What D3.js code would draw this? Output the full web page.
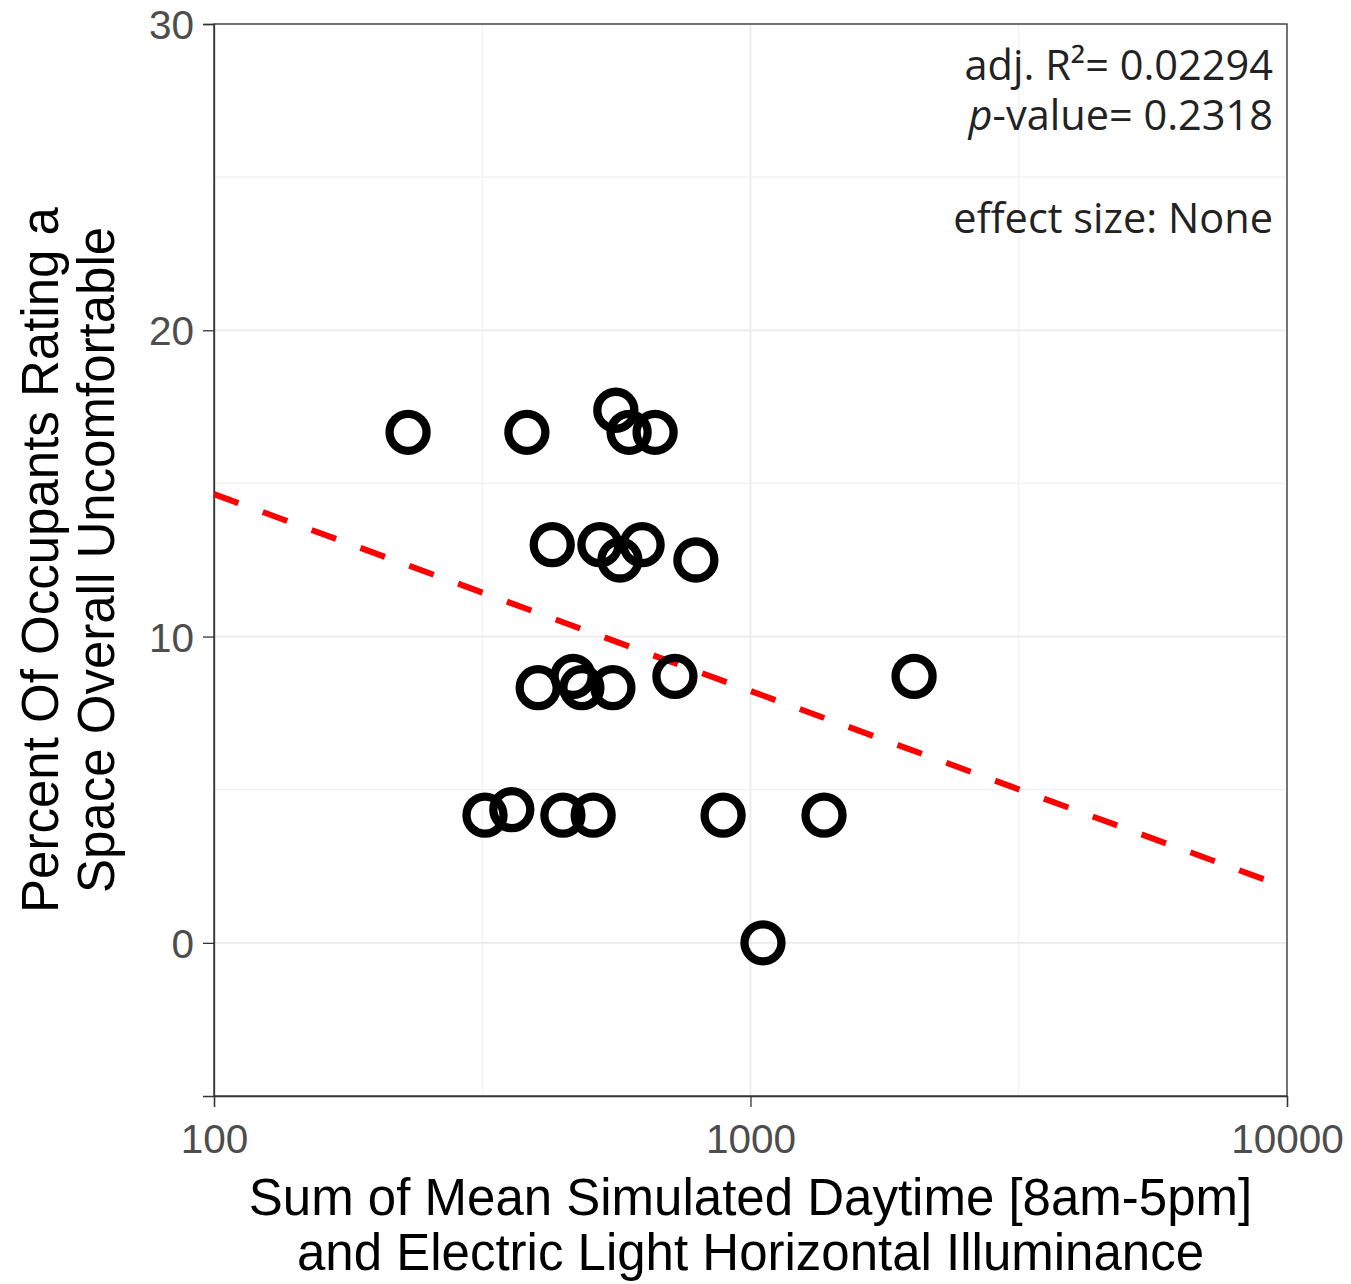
<!DOCTYPE html>
<html><head><meta charset="utf-8">
<script src="https://cdn.jsdelivr.net/npm/d3@7"></script>
<style>body{margin:0;background:#fff}</style>
</head><body>
<svg id="c" width="1351" height="1284"></svg>
<script>
const illum = [230, 383, 561, 594, 664, 427, 524, 571, 628, 791, 402, 467, 485, 554, 723, 320, 359, 447, 509, 889, 1371, 1055, 2018];
const pct   = [16.67, 16.67, 17.39, 16.67, 16.67, 13.0, 13.0, 12.5, 13.0, 12.5, 8.33, 8.7, 8.33, 8.33, 8.7, 4.17, 4.35, 4.17, 4.17, 4.17, 4.17, 0, 8.7];
const fitX = [100, 10000];
const fitY = [14.65, 1.8];
const xTicks = [100, 1000, 10000];
const xMinor = [316.23, 3162.3];
const yTicks = [0, 10, 20, 30];
const yMinor = [-5, 5, 15, 25];
const annot = ["adj. R\u00b2= 0.02294", "-value= 0.2318", "effect size: None"];

const L = 214, R = 1287, T = 24, B = 1096;
const svg = d3.select("#c");
const x = d3.scaleLog().domain([100, 10000]).range([L, R]);
const y = d3.scaleLinear().domain([-5, 30]).range([B, T]);

const g = svg.append("g");
// grid
g.selectAll(".gmx").data(xMinor).join("line").attr("x1", d => x(d)).attr("x2", d => x(d)).attr("y1", T).attr("y2", B).attr("stroke", "#f0f0f0").attr("stroke-width", 1.2);
g.selectAll(".gmy").data(yMinor).join("line").attr("y1", d => y(d)).attr("y2", d => y(d)).attr("x1", L).attr("x2", R).attr("stroke", "#f0f0f0").attr("stroke-width", 1.2);
g.selectAll(".gx").data(xTicks).join("line").attr("x1", d => x(d)).attr("x2", d => x(d)).attr("y1", T).attr("y2", B).attr("stroke", "#ebebeb").attr("stroke-width", 1.8);
g.selectAll(".gy").data(yTicks).join("line").attr("y1", d => y(d)).attr("y2", d => y(d)).attr("x1", L).attr("x2", R).attr("stroke", "#ebebeb").attr("stroke-width", 1.8);

// border
g.append("rect").attr("x", L).attr("y", T).attr("width", R - L).attr("height", B - T).attr("fill", "none").attr("stroke", "#333").attr("stroke-width", 1.3);

// axes
const xa = svg.append("g").attr("transform", `translate(0,${B})`)
  .call(d3.axisBottom(x).tickValues(xTicks).tickFormat(d3.format("d")).tickSize(11).tickPadding(8));
const ya = svg.append("g").attr("transform", `translate(${L},0)`)
  .call(d3.axisLeft(y).tickValues(yTicks).tickSize(11).tickPadding(9));
[xa, ya].forEach(a => {
  a.select(".domain").attr("stroke", "#333").attr("stroke-width", 1.3);
  a.selectAll(".tick line").attr("stroke", "#333").attr("stroke-width", 1.3);
  a.selectAll("text").attr("fill", "#4d4d4d").style("font-family", "Liberation Sans, Arial, sans-serif").style("font-size", "40.5px");
});
xa.selectAll("text").attr("dy", "0.93em");
ya.selectAll("text").attr("dy", "0.36em");

// fit line
svg.append("line").attr("x1", x(fitX[0])).attr("y1", y(fitY[0])).attr("x2", x(fitX[1])).attr("y2", y(fitY[1]))
  .attr("stroke", "#ff0000").attr("stroke-width", 6).attr("stroke-dasharray", "26,26");

// points
svg.append("g").selectAll("circle").data(illum.map((v, i) => [v, pct[i]])).join("circle")
  .attr("cx", d => x(d[0])).attr("cy", d => y(d[1])).attr("r", 18.5)
  .attr("fill", "none").attr("stroke", "#000").attr("stroke-width", 8.3);

// annotation
const af = "Open Sans, sans-serif";
const fs = "41.5px";
svg.append("text").attr("x", 1273).attr("y", 80).attr("text-anchor", "end").style("font-family", af).style("font-size", fs).attr("fill", "#222").text(annot[0]);
const t2 = svg.append("text").attr("x", 1273).attr("y", 130).attr("text-anchor", "end").style("font-family", af).style("font-size", fs).attr("fill", "#222");
t2.append("tspan").style("font-style", "italic").text("p");
t2.append("tspan").text(annot[1]);
svg.append("text").attr("x", 1273).attr("y", 233).attr("text-anchor", "end").style("font-family", af).style("font-size", fs).attr("fill", "#222").text(annot[2]);

// axis titles
const tf = "Liberation Sans, Arial, sans-serif";
const tfs = "51px";
const cx = (L + R) / 2;
svg.append("text").attr("x", cx).attr("y", 1215).attr("text-anchor", "middle").style("font-family", tf).style("font-size", tfs).attr("fill", "#000").text("Sum of Mean Simulated Daytime [8am-5pm]");
svg.append("text").attr("x", cx).attr("y", 1270).attr("text-anchor", "middle").style("font-family", tf).style("font-size", tfs).attr("fill", "#000").text("and Electric Light Horizontal Illuminance");
const cy = (T + B) / 2;
svg.append("text").attr("transform", `translate(58,${cy}) rotate(-90)`).attr("text-anchor", "middle").style("font-family", tf).style("font-size", tfs).attr("fill", "#000").text("Percent Of Occupants Rating a");
svg.append("text").attr("transform", `translate(114,${cy}) rotate(-90)`).attr("text-anchor", "middle").style("font-family", tf).style("font-size", tfs).attr("fill", "#000").text("Space Overall Uncomfortable");
</script>
</body></html>
